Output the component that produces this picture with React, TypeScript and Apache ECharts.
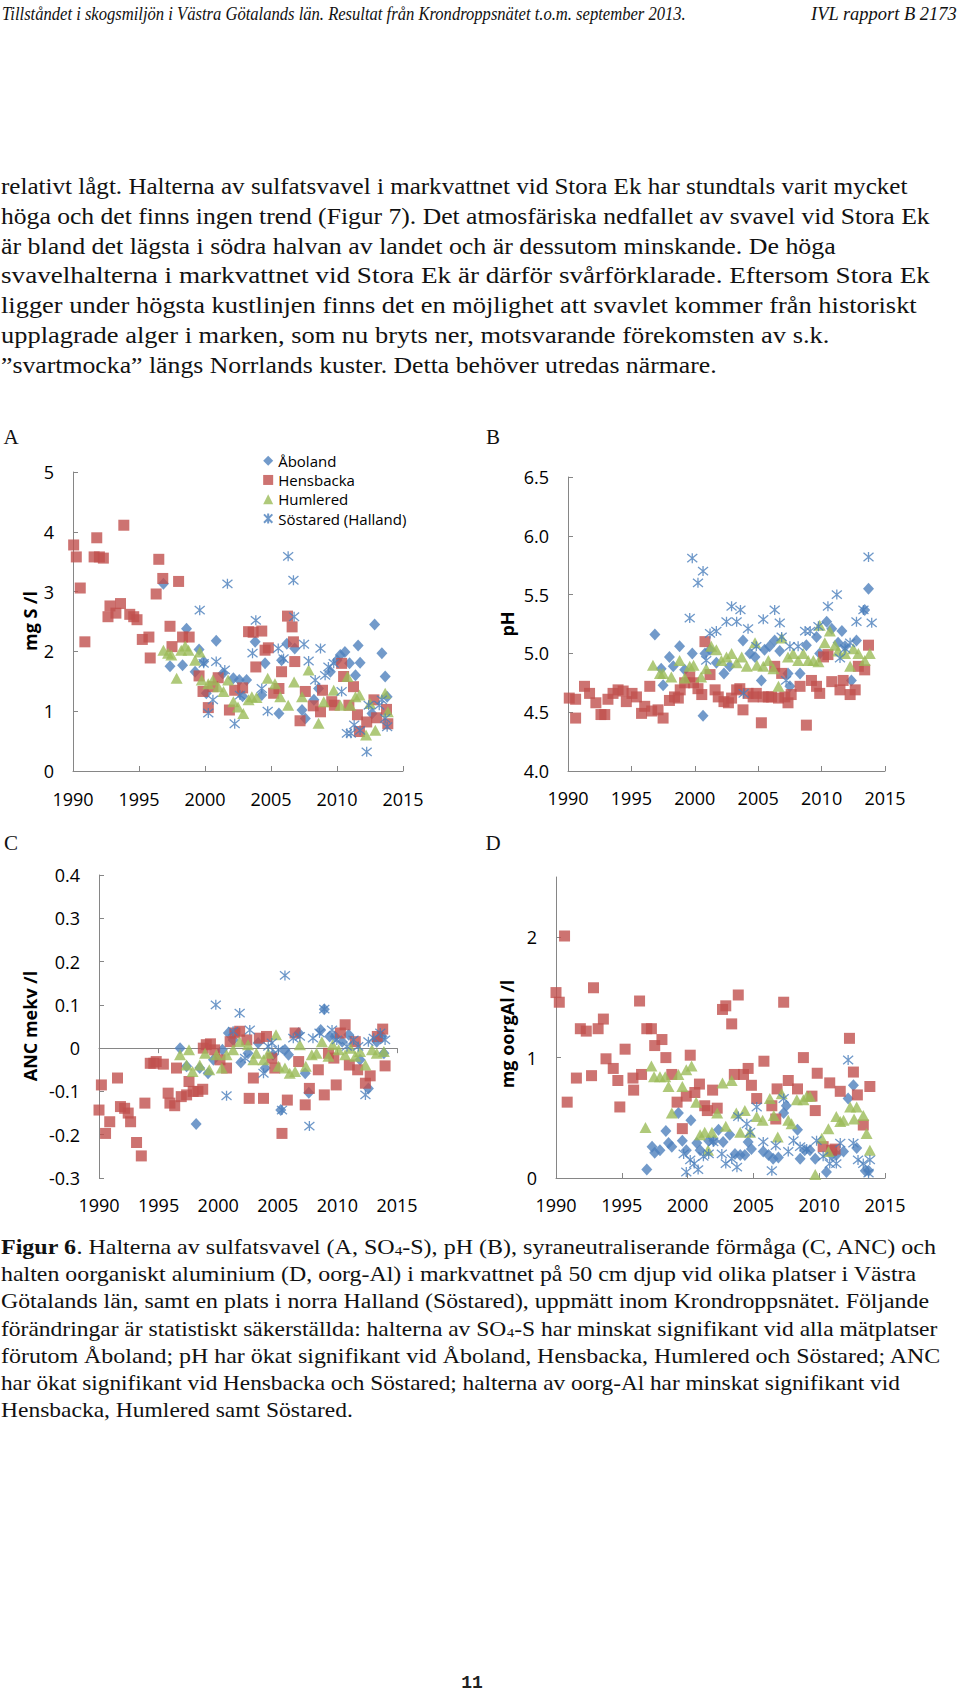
import React, { useEffect, useRef } from 'react';
import * as echarts from 'echarts';

// ---------- names / ticks ----------
const SITE_NAMES = ['Åboland', 'Hensbacka', 'Humlered', 'Söstared (Halland)'];
const YEAR_MIN = 1990;
const YEAR_MAX = 2015;
const YEAR_STEP = 5;

// ---------- Panel A: SO4-S (mg S /l) ----------
const A_ABOLAND = [[1996.85,3.13],[1997.35,1.75],[1998.3,1.77],[1998.6,2.38],[1999.25,1.66],[1999.55,2.03],[1999.9,1.83],[2000.1,1.3],[2000.85,2.18],[2001.35,1.63],[2002.15,1.55],[2002.6,1.52],[2002.85,1.25],[2003.15,1.52],[2003.8,2.16],[2004.3,1.27],[2004.55,1.8],[2005.6,0.96],[2005.8,1.85],[2006.2,2.13],[2006.8,2.05],[2007.35,1.02],[2007.6,0.88],[2008.25,1.19],[2008.6,1.38],[2009.5,1.66],[2010.0,1.85],[2010.25,1.94],[2010.6,1.99],[2010.95,1.8],[2011.4,1.6],[2011.6,2.1],[2011.75,1.81],[2012.65,0.96],[2012.85,2.45],[2013.4,1.97],[2013.65,1.58],[2013.8,1.24]];
const A_HENSBACKA = [[1990.05,3.78],[1990.25,3.58],[1990.55,3.06],[1990.9,2.16],[1991.6,3.58],[1991.8,3.9],[1992.0,3.58],[1992.3,3.56],[1992.65,2.58],[1992.8,2.76],[1993.25,2.64],[1993.6,2.8],[1993.85,4.11],[1994.3,2.62],[1994.6,2.58],[1994.85,2.53],[1995.25,2.2],[1995.75,2.24],[1995.85,1.89],[1996.3,2.96],[1996.5,3.54],[1996.8,3.22],[1997.35,2.42],[1997.5,2.08],[1998.0,3.17],[1998.3,2.24],[1998.8,2.24],[1999.55,1.59],[1999.85,1.33],[2000.25,1.06],[2000.6,1.41],[2001.0,1.56],[2001.85,1.02],[2002.25,1.35],[2002.85,1.39],[2003.3,2.33],[2003.65,2.32],[2003.85,1.74],[2004.3,2.34],[2004.55,2.02],[2004.8,2.06],[2005.2,1.3],[2005.6,1.38],[2005.8,1.66],[2006.25,2.59],[2006.6,2.41],[2006.7,2.16],[2006.8,1.83],[2007.2,0.84],[2007.6,1.33],[2008.2,1.09],[2008.75,0.99],[2008.9,1.35],[2009.6,1.16],[2009.8,1.1],[2010.35,1.8],[2010.5,1.58],[2010.9,1.1],[2011.25,1.41],[2011.55,0.94],[2011.7,0.66],[2012.25,0.82],[2012.8,1.19],[2013.0,0.89],[2013.75,1.03],[2013.85,0.79]];
const A_HUMLERED = [[1996.85,2.02],[1997.2,1.97],[1997.45,1.94],[1997.85,1.55],[1998.2,2.02],[1998.5,2.09],[1998.75,2.02],[1999.25,1.85],[1999.6,1.99],[1999.75,1.52],[2000.25,1.46],[2000.6,1.52],[2001.0,1.41],[2001.4,1.33],[2001.75,1.52],[2002.15,1.16],[2002.5,1.07],[2002.9,0.96],[2003.3,1.19],[2003.55,1.24],[2003.9,1.23],[2004.75,1.55],[2005.3,1.46],[2005.7,1.24],[2006.3,1.1],[2006.75,1.49],[2007.35,1.24],[2007.85,1.69],[2008.6,0.8],[2009.0,1.16],[2009.75,1.35],[2010.25,1.1],[2010.8,1.58],[2011.0,1.1],[2011.4,1.24],[2011.7,1.27],[2012.2,0.6],[2012.5,1.13],[2012.9,0.68],[2013.65,1.3],[2013.85,0.99]];
const A_SOSTARED = [[1999.6,2.69],[1999.9,1.8],[2000.25,0.97],[2000.6,1.19],[2000.85,1.83],[2001.5,1.69],[2001.7,3.13],[2002.25,0.79],[2002.65,1.27],[2003.6,1.97],[2003.85,2.52],[2004.3,1.38],[2004.75,1.0],[2005.55,2.05],[2005.95,1.88],[2006.3,3.59],[2006.7,3.19],[2006.75,2.58],[2007.5,2.12],[2007.85,1.84],[2008.35,1.52],[2008.75,2.05],[2009.1,1.6],[2009.35,1.74],[2009.75,1.8],[2010.35,1.33],[2010.75,0.63],[2011.05,0.63],[2011.3,0.77],[2011.75,0.68],[2012.25,0.32],[2012.4,1.1],[2013.2,1.1],[2013.4,1.19],[2013.65,0.88],[2013.8,0.74]];

// ---------- Panel B: pH ----------
const B_ABOLAND = [[1996.85,5.16],[1997.35,4.87],[1997.5,4.73],[1998.0,4.97],[1998.3,4.89],[1998.8,5.06],[1999.2,4.86],[1999.8,5.0],[2000.65,4.47],[2000.8,5.0],[2001.2,5.03],[2001.7,4.92],[2002.3,4.83],[2002.75,4.89],[2003.8,5.11],[2004.35,5.0],[2004.75,4.97],[2005.25,4.77],[2005.5,5.03],[2005.9,5.06],[2006.3,5.11],[2006.7,5.02],[2007.35,4.83],[2007.5,4.72],[2008.3,4.83],[2008.8,5.07],[2009.6,5.14],[2009.85,5.0],[2010.4,5.27],[2010.8,5.21],[2011.3,5.09],[2011.6,5.19],[2011.85,5.06],[2012.35,4.77],[2012.75,5.11],[2013.4,5.37],[2013.7,5.55]];
const B_HENSBACKA = [[1990.1,4.62],[1990.6,4.45],[1990.6,4.61],[1991.3,4.72],[1991.7,4.66],[1992.2,4.58],[1992.6,4.48],[1992.9,4.48],[1993.15,4.61],[1993.55,4.66],[1993.95,4.69],[1994.35,4.68],[1994.6,4.59],[1995.05,4.66],[1995.4,4.63],[1995.8,4.49],[1996.05,4.55],[1996.45,4.72],[1996.6,4.51],[1997.1,4.52],[1997.5,4.45],[1998.0,4.6],[1998.4,4.63],[1998.7,4.62],[1998.85,4.69],[1999.2,4.75],[1999.6,4.8],[1999.9,4.75],[2000.25,4.7],[2000.55,4.65],[2000.8,5.1],[2001.2,4.82],[2001.6,4.69],[2001.85,4.63],[2002.3,4.59],[2002.65,4.58],[2002.9,4.62],[2003.3,4.69],[2003.55,4.7],[2003.8,4.52],[2004.2,4.66],[2004.6,4.63],[2004.85,4.66],[2005.25,4.41],[2005.4,4.63],[2005.8,4.63],[2006.05,4.63],[2006.3,4.89],[2006.6,4.62],[2006.85,4.83],[2007.1,4.63],[2007.35,4.58],[2007.6,4.65],[2008.3,4.72],[2008.8,4.39],[2009.2,4.77],[2009.6,4.72],[2009.85,4.66],[2010.15,4.97],[2010.5,4.99],[2010.8,4.76],[2011.45,4.69],[2011.7,4.77],[2012.25,4.65],[2012.65,4.69],[2012.9,4.89],[2013.4,4.86],[2013.7,5.07]];
const B_HUMLERED = [[1996.7,4.9],[1997.25,4.83],[1997.5,4.83],[1998.15,4.8],[1998.8,4.94],[1999.2,4.79],[1999.6,4.89],[1999.9,4.9],[2000.5,4.8],[2000.9,4.87],[2001.3,5.06],[2001.7,5.03],[2002.1,4.94],[2002.5,4.97],[2002.9,5.0],[2003.3,4.92],[2003.7,4.97],[2004.1,4.89],[2004.75,5.09],[2004.9,4.9],[2005.4,4.89],[2005.8,4.94],[2006.2,4.87],[2006.6,4.72],[2006.85,5.13],[2007.35,4.97],[2007.75,5.0],[2008.15,4.94],[2008.55,5.0],[2008.95,4.94],[2009.35,4.94],[2009.75,4.93],[2009.85,5.24],[2010.25,5.09],[2010.65,5.19],[2011.05,5.07],[2011.3,5.02],[2011.85,5.0],[2012.25,4.89],[2012.5,5.04],[2012.9,5.0],[2013.4,4.94],[2013.8,5.0]];
const B_SOSTARED = [[1999.6,5.3],[1999.8,5.81],[2000.25,5.6],[2000.65,5.7],[2000.9,4.94],[2001.2,5.17],[2001.7,5.19],[2002.5,5.27],[2002.9,5.4],[2003.3,5.27],[2003.6,5.37],[2003.85,4.66],[2004.2,5.21],[2004.85,5.06],[2005.4,5.29],[2006.3,5.37],[2006.7,5.26],[2006.85,5.14],[2007.2,4.77],[2007.5,5.06],[2008.15,5.06],[2008.7,5.19],[2009.1,5.19],[2009.75,5.23],[2010.5,5.4],[2011.2,5.5],[2011.45,4.96],[2011.85,5.04],[2012.25,5.09],[2012.75,5.27],[2013.3,5.37],[2013.7,5.82],[2013.95,5.26]];

// ---------- Panel C: ANC (mekv /l) ----------
const C_ABOLAND = [[1996.8,0.0],[1997.35,-0.042],[1998.15,-0.175],[1998.45,-0.046],[1999.15,-0.058],[1999.6,-0.027],[2000.35,-0.004],[2000.85,0.035],[2001.25,0.019],[2001.9,-0.033],[2002.5,-0.012],[2003.35,0.012],[2003.95,-0.046],[2004.6,-0.015],[2005.25,-0.143],[2005.6,-0.004],[2005.9,-0.015],[2006.75,0.035],[2007.3,-0.058],[2007.6,-0.103],[2008.6,0.042],[2008.9,0.09],[2009.35,0.027],[2009.8,0.027],[2010.4,0.015],[2010.95,0.031],[2011.9,-0.027],[2012.6,-0.093],[2013.3,0.015],[2013.75,0.027],[2013.9,-0.012]];
const C_HENSBACKA = [[1990.0,-0.143],[1990.2,-0.085],[1990.55,-0.197],[1990.9,-0.17],[1991.55,-0.069],[1991.8,-0.135],[1992.15,-0.139],[1992.45,-0.15],[1992.65,-0.17],[1993.15,-0.218],[1993.55,-0.249],[1993.85,-0.127],[1994.3,-0.035],[1994.6,-0.035],[1994.8,-0.031],[1995.4,-0.037],[1995.8,-0.104],[1995.95,-0.127],[1996.35,-0.133],[1996.5,-0.046],[1996.9,-0.112],[1997.35,-0.108],[1997.55,-0.077],[1997.9,-0.1],[1998.3,-0.1],[1998.7,-0.095],[1998.75,0.0],[1999.0,0.008],[1999.35,0.01],[1999.7,-0.004],[2000.15,-0.027],[2000.7,-0.046],[2001.0,0.015],[2001.4,0.035],[2001.8,0.039],[2002.4,0.019],[2002.6,-0.116],[2002.95,-0.069],[2003.45,0.023],[2003.8,-0.116],[2004.05,0.027],[2004.5,-0.023],[2004.75,-0.046],[2005.35,-0.197],[2005.8,-0.12],[2006.45,0.035],[2006.75,-0.031],[2007.3,-0.131],[2007.65,-0.093],[2008.4,-0.05],[2008.9,-0.108],[2009.25,-0.012],[2009.7,-0.023],[2009.9,-0.085],[2010.25,0.035],[2010.65,0.054],[2011.0,-0.039],[2011.5,0.015],[2011.7,-0.05],[2012.35,-0.081],[2012.75,-0.064],[2013.35,0.027],[2013.8,0.044],[2014.0,-0.041]];
const C_HUMLERED = [[1996.8,-0.015],[1997.35,-0.039],[1997.55,-0.004],[1997.85,-0.054],[1998.45,-0.039],[1998.9,-0.012],[1999.25,-0.05],[1999.85,-0.015],[2000.3,-0.046],[2000.7,-0.015],[2001.25,-0.004],[2001.8,0.015],[2002.5,0.008],[2002.95,-0.027],[2003.2,-0.012],[2003.8,-0.027],[2004.2,-0.012],[2004.85,0.031],[2005.05,-0.042],[2005.6,-0.046],[2006.0,-0.058],[2006.45,-0.054],[2006.85,0.008],[2007.35,-0.042],[2007.85,-0.015],[2008.25,-0.012],[2008.7,0.015],[2009.25,-0.019],[2009.6,0.008],[2010.1,-0.004],[2010.65,-0.015],[2011.1,0.0],[2011.5,-0.019],[2011.9,-0.008],[2012.35,-0.039],[2012.9,-0.004],[2013.3,-0.012],[2013.9,-0.008]];
const C_SOSTARED = [[1999.8,0.1],[2000.7,-0.11],[2001.25,0.039],[2001.8,0.081],[2002.25,-0.023],[2002.65,0.042],[2003.8,-0.058],[2004.2,0.004],[2004.5,0.012],[2005.05,-0.004],[2005.35,-0.143],[2005.6,0.168],[2006.3,0.023],[2006.85,0.027],[2007.65,-0.18],[2007.95,0.023],[2008.5,0.035],[2008.9,0.09],[2009.55,0.042],[2009.95,0.019],[2010.8,0.004],[2011.35,0.019],[2011.75,0.004],[2012.35,-0.108],[2012.6,0.015],[2013.05,0.023],[2013.6,0.035],[2014.0,0.019]];

// ---------- Panel D: oorg-Al (mg /l) ----------
const D_ABOLAND = [[1996.9,0.07],[1997.3,0.26],[1997.5,0.21],[1997.9,0.23],[1998.35,0.39],[1998.55,0.29],[1998.8,0.26],[1999.3,0.54],[1999.6,0.31],[1999.9,0.23],[2000.25,0.48],[2000.7,0.29],[2000.95,0.23],[2001.6,0.31],[2002.0,0.31],[2002.35,0.4],[2002.7,0.3],[2003.2,0.36],[2003.6,0.2],[2004.0,0.19],[2004.35,0.19],[2004.6,0.3],[2004.85,0.24],[2005.75,0.22],[2006.15,0.19],[2006.5,0.16],[2006.9,0.17],[2007.3,0.54],[2007.5,0.6],[2008.35,0.4],[2008.55,0.16],[2008.9,0.23],[2009.3,0.23],[2009.7,0.16],[2010.55,0.05],[2010.95,0.19],[2011.3,0.19],[2011.85,0.22],[2012.2,0.66],[2012.6,0.77],[2012.85,0.25],[2013.5,0.06],[2013.75,0.06]];
const D_HENSBACKA = [[1990.0,1.54],[1990.25,1.46],[1990.65,2.01],[1990.85,0.63],[1991.55,0.83],[1991.85,1.24],[1992.3,1.22],[1992.7,0.85],[1992.85,1.58],[1993.2,1.24],[1993.6,1.32],[1993.8,0.99],[1994.35,0.91],[1994.7,0.81],[1994.85,0.59],[1995.25,1.07],[1995.85,0.83],[1995.9,0.73],[1996.35,1.47],[1996.5,0.86],[1996.9,1.24],[1997.25,1.24],[1997.5,1.1],[1998.05,1.15],[1998.35,1.0],[1998.8,0.86],[1999.2,0.63],[1999.6,0.41],[1999.9,0.68],[2000.2,1.02],[2000.55,0.71],[2000.9,0.78],[2001.3,0.6],[2001.5,0.56],[2001.9,0.73],[2002.25,0.58],[2002.65,1.4],[2002.9,1.43],[2003.35,1.28],[2003.55,0.86],[2003.85,1.52],[2004.25,0.86],[2004.6,0.91],[2004.85,0.77],[2005.25,0.66],[2005.8,0.97],[2006.4,0.6],[2006.7,0.49],[2006.8,0.74],[2007.3,1.46],[2007.65,0.81],[2008.35,0.74],[2008.8,1.0],[2009.45,0.68],[2009.7,0.56],[2009.85,0.87],[2010.3,0.26],[2010.8,0.79],[2010.95,0.23],[2011.2,0.24],[2011.6,0.72],[2012.3,1.16],[2012.6,0.88],[2012.9,0.69],[2013.35,0.44],[2013.85,0.76]];
const D_HUMLERED = [[1996.8,0.42],[1997.25,0.93],[1997.45,0.84],[1997.9,0.84],[1998.3,0.84],[1998.55,0.76],[1998.8,0.54],[1999.3,0.86],[1999.6,0.76],[1999.9,0.9],[2000.3,0.93],[2000.65,0.63],[2000.95,0.36],[2001.3,0.38],[2001.55,0.23],[2001.85,0.38],[2002.25,0.54],[2002.65,0.79],[2002.9,0.43],[2003.35,0.81],[2003.7,0.54],[2004.0,0.38],[2004.35,0.56],[2004.75,0.38],[2005.25,0.51],[2005.7,0.48],[2006.25,0.66],[2006.55,0.52],[2006.85,0.34],[2007.15,0.7],[2007.65,0.48],[2007.9,0.45],[2008.3,0.65],[2008.8,0.65],[2009.05,0.68],[2009.3,0.68],[2009.7,0.03],[2010.2,0.33],[2010.7,0.41],[2010.7,0.22],[2011.3,0.51],[2011.6,0.47],[2011.85,0.48],[2012.35,0.59],[2012.65,0.49],[2012.85,0.59],[2013.35,0.52],[2013.6,0.37],[2013.85,0.23]];
const D_SOSTARED = [[1999.7,0.2],[1999.9,0.05],[2000.2,0.15],[2000.5,0.12],[2000.8,0.07],[2001.2,0.18],[2001.6,0.2],[2001.95,0.3],[2002.6,0.2],[2002.9,0.12],[2003.35,0.16],[2003.75,0.09],[2003.85,0.51],[2004.5,0.45],[2004.75,0.38],[2005.25,0.59],[2005.75,0.3],[2006.4,0.06],[2006.7,0.27],[2007.3,0.66],[2007.65,0.22],[2008.05,0.31],[2008.55,0.26],[2009.05,0.24],[2009.8,0.31],[2010.3,0.18],[2010.8,0.12],[2011.3,0.12],[2011.6,0.29],[2012.2,0.98],[2012.6,0.29],[2012.95,0.15],[2013.35,0.12],[2013.75,0.04],[2013.85,0.15]];

// ---------- page texts ----------
const HEADER_LEFT = 'Tillståndet i skogsmiljön i Västra Götalands län. Resultat från Krondroppsnätet t.o.m. september 2013.';
const HEADER_RIGHT = 'IVL rapport B 2173';
const BODY_LINES = [
  'relativt lågt. Halterna av sulfatsvavel i markvattnet vid Stora Ek har stundtals varit mycket',
  'höga och det finns ingen trend (Figur 7). Det atmosfäriska nedfallet av svavel vid Stora Ek',
  'är bland det lägsta i södra halvan av landet och är dessutom minskande. De höga',
  'svavelhalterna i markvattnet vid Stora Ek är därför svårförklarade. Eftersom Stora Ek',
  'ligger under högsta kustlinjen finns det en möjlighet att svavlet kommer från historiskt',
  'upplagrade alger i marken, som nu bryts ner, motsvarande förekomsten av s.k.',
  '\u201dsvartmocka\u201d längs Norrlands kuster. Detta behöver utredas närmare.',
];
const BODY_RIGHT = [908, 930, 836, 930, 917, 830, 717];
type Seg = [string, 'n' | 'b' | 's'];
const CAPTION_LINES: Seg[][] = [
  [['Figur 6', 'b'], ['. Halterna av sulfatsvavel (A, SO', 'n'], ['4', 's'], ['-S), pH (B), syraneutraliserande förmåga (C, ANC) och', 'n']],
  [['halten oorganiskt aluminium (D, oorg-Al) i markvattnet på 50 cm djup vid olika platser i Västra', 'n']],
  [['Götalands län, samt en plats i norra Halland (Söstared), uppmätt inom Krondroppsnätet. Följande', 'n']],
  [['förändringar är statistiskt säkerställda: halterna av SO', 'n'], ['4', 's'], ['-S har minskat signifikant vid alla mätplatser', 'n']],
  [['förutom Åboland; pH har ökat signifikant vid Åboland, Hensbacka, Humlered och Söstared; ANC', 'n']],
  [['har ökat signifikant vid Hensbacka och Söstared; halterna av oorg-Al har minskat signifikant vid', 'n']],
  [['Hensbacka, Humlered samt Söstared.', 'n']],
];
const CAPTION_RIGHT = [937, 917, 929, 938, 943, 901, 353];
const PANEL_LETTERS = ['A', 'B', 'C', 'D'];
const Y_TITLES = ['mg S /l', 'pH', 'ANC mekv /l', 'mg oorgAl /l'];
const PAGE_NUMBER = '11';

// ---------- styling ----------
const SERIF = 'Liberation Serif';
const SANS = 'Open Sans';
const AXIS_COLOR = '#868686';
const SITE_STYLES: any[] = [
  { symbol: 'diamond', symbolSize: [11, 12], itemStyle: { color: '#4F81BD' } },
  { symbol: 'rect', symbolSize: 11, itemStyle: { color: '#C0504D' } },
  { symbol: 'triangle', symbolSize: [12, 11], itemStyle: { color: '#9BBB59' } },
  {
    symbol: 'path://M0 0L10 10M10 0L0 10M5 -1L5 11',
    symbolSize: 10,
    itemStyle: { color: 'rgba(0,0,0,0)', borderColor: '#4A7EBB', borderWidth: 1.3 },
  },
];

let measureCtx: CanvasRenderingContext2D | null = null;
function measure(text: string, font: string): number {
  if (!measureCtx) measureCtx = document.createElement('canvas').getContext('2d');
  if (!measureCtx) return text.length * 8;
  measureCtx.font = font;
  return measureCtx.measureText(text).width;
}

function fittedText(segs: Seg[], x: number, yMid: number, right: number, size: number, opts: any = {}) {
  const style = opts.italic ? 'italic ' : '';
  const subSize = Math.round(size * 0.65);
  let width = 0;
  let rich = '';
  for (const [t, k] of segs) {
    if (k === 'b') { width += measure(t, `bold ${size}px "${SERIF}"`); rich += `{b|${t}}`; }
    else if (k === 's') { width += measure(t, `${subSize}px "${SERIF}"`); rich += `{s|${t}}`; }
    else { width += measure(t, `${style}${size}px "${SERIF}"`); rich += t; }
  }
  const scaleX = width > 0 ? (right - x) / width : 1;
  return {
    type: 'text',
    x,
    y: yMid,
    scaleX,
    silent: true,
    z: 100,
    style: {
      text: rich,
      fontFamily: SERIF,
      fontSize: size,
      fontStyle: opts.italic ? 'italic' : 'normal',
      fill: '#111',
      lineHeight: size,
      align: 'left',
      verticalAlign: 'middle',
      textAlign: 'left',
      textVerticalAlign: 'middle',
      rich: {
        b: { fontFamily: SERIF, fontSize: size, fontWeight: 'bold', fill: '#111', lineHeight: size },
        s: { fontFamily: SERIF, fontSize: subSize, fill: '#111', lineHeight: subSize, verticalAlign: 'bottom' },
      },
    },
  };
}

function plainText(text: string, x: number, y: number, style: any, extra: any = {}) {
  return {
    type: 'text', x, y, silent: true, z: 100, ...extra,
    style: { text, fill: '#000', align: 'center', verticalAlign: 'middle', textAlign: 'center', textVerticalAlign: 'middle', ...style },
  };
}

const GRIDS = [
  { left: 73, top: 472, width: 330, height: 299 },
  { left: 568, top: 477, width: 317, height: 294 },
  { left: 99, top: 875, width: 298, height: 303 },
  { left: 556, top: 877, width: 329, height: 301 },
];

function xAxis(gridIndex: number, margin: number, extra: any = {}) {
  return {
    type: 'value', gridIndex, min: YEAR_MIN, max: YEAR_MAX, interval: YEAR_STEP,
    axisLine: { show: true, onZero: false, lineStyle: { color: AXIS_COLOR, width: 1 } },
    axisTick: { show: true, inside: true, length: 5, lineStyle: { color: AXIS_COLOR, width: 1 } },
    axisLabel: { show: true, margin, color: '#000', fontSize: 18, fontFamily: SANS, formatter: (v: number) => String(Math.round(v)) },
    splitLine: { show: false },
    ...extra,
  };
}

function yAxis(gridIndex: number, min: number, max: number, interval: number, formatter: (v: number) => string, extra: any = {}) {
  return {
    type: 'value', gridIndex, min, max, interval,
    axisLine: { show: true, onZero: false, lineStyle: { color: AXIS_COLOR, width: 1 } },
    axisTick: { show: true, inside: true, length: 5, lineStyle: { color: AXIS_COLOR, width: 1 } },
    axisLabel: { show: true, margin: 19, color: '#000', fontSize: 18, fontFamily: SANS, formatter },
    splitLine: { show: false },
    ...extra,
  };
}

const PANEL_DATA = [
  [A_ABOLAND, A_HENSBACKA, A_HUMLERED, A_SOSTARED],
  [B_ABOLAND, B_HENSBACKA, B_HUMLERED, B_SOSTARED],
  [C_ABOLAND, C_HENSBACKA, C_HUMLERED, C_SOSTARED],
  [D_ABOLAND, D_HENSBACKA, D_HUMLERED, D_SOSTARED],
];
// x axis used by each panel's series (panel C uses the zero-crossing axis)
const PANEL_XAXIS = [0, 1, 3, 4];

function buildOption() {
  const series: any[] = [];
  PANEL_DATA.forEach((sites, p) => {
    sites.forEach((data, s) => {
      series.push({
        type: 'scatter', name: SITE_NAMES[s], xAxisIndex: PANEL_XAXIS[p], yAxisIndex: p,
        data, ...SITE_STYLES[s], emphasis: { disabled: true }, silent: true,
      });
    });
  });

  const graphics: any[] = [];
  graphics.push(fittedText([[HEADER_LEFT, 'n']], 2, 14, 686, 18, { italic: true }));
  graphics.push(fittedText([[HEADER_RIGHT, 'n']], 811, 14, 957, 18, { italic: true }));
  BODY_LINES.forEach((l, i) => graphics.push(fittedText([[l, 'n']], 1, 186 + i * 29.8, BODY_RIGHT[i], 23)));
  CAPTION_LINES.forEach((segs, i) => graphics.push(fittedText(segs, 1, 1247 + i * 27.2, CAPTION_RIGHT[i], 20.5)));
  const letterPos = [[11, 437], [493, 437], [11, 843], [493, 843]];
  PANEL_LETTERS.forEach((t, i) => graphics.push(plainText(t, letterPos[i][0], letterPos[i][1], { fontFamily: SERIF, fontSize: 21, fill: '#111' })));
  const titlePos = [[30, 621], [507, 624], [30, 1026], [507, 1034]];
  Y_TITLES.forEach((t, i) => graphics.push(plainText(t, titlePos[i][0], titlePos[i][1], { fontFamily: SANS, fontSize: 18, fontWeight: 'bold' }, { rotation: Math.PI / 2 })));
  graphics.push(plainText(PAGE_NUMBER, 472, 1683, { fontFamily: 'Liberation Mono', fontSize: 18, fontWeight: 'bold', fill: '#222' }));

  return {
    animation: false,
    textStyle: { fontFamily: SANS },
    grid: GRIDS.map((g) => ({ ...g, containLabel: false, outerBoundsMode: 'none', show: false })),
    legend: {
      data: SITE_NAMES, orient: 'vertical', left: 263, top: 451, padding: 0,
      itemWidth: 10, itemHeight: 10, itemGap: 0, selectedMode: false,
      textStyle: { fontFamily: SANS, fontSize: 15, color: '#000', lineHeight: 19.3 },
    },
    xAxis: [
      xAxis(0, 19),
      xAxis(1, 18),
      xAxis(2, 18, { axisLine: { show: false, onZero: false }, axisTick: { show: false } }),
      xAxis(2, 18, {
        axisLine: { show: true, onZero: true, lineStyle: { color: AXIS_COLOR, width: 1 } },
        axisLabel: { show: false },
      }),
      xAxis(3, 18),
    ],
    yAxis: [
      yAxis(0, 0, 5, 1, (v) => String(Math.round(v))),
      yAxis(1, 4, 6.5, 0.5, (v) => v.toFixed(1)),
      yAxis(2, -0.3, 0.4, 0.1, (v) => { const r = Math.round(v * 10) / 10; return r === 0 ? '0' : r.toFixed(1); }),
      yAxis(3, 0, 2.5, 1, (v) => (Math.abs(v - Math.round(v)) < 1e-6 ? String(Math.round(v)) : ''), {
        axisTick: { show: true, inside: true, length: 5, customValues: [0, 1, 2], lineStyle: { color: AXIS_COLOR, width: 1 } },
      }),
    ],
    series,
    graphic: { elements: graphics },
  };
}

export default function App() {
  const ref = useRef<HTMLDivElement>(null);
  useEffect(() => {
    if (!ref.current) return;
    const chart = echarts.init(ref.current, undefined, { renderer: 'svg', width: 960, height: 1699 });
    chart.setOption(buildOption() as any);
    return () => chart.dispose();
  }, []);
  return (
    <div
      ref={ref}
      style={{ position: 'absolute', left: 0, top: 0, width: 960, height: 1699, background: '#fff' }}
    />
  );
}
